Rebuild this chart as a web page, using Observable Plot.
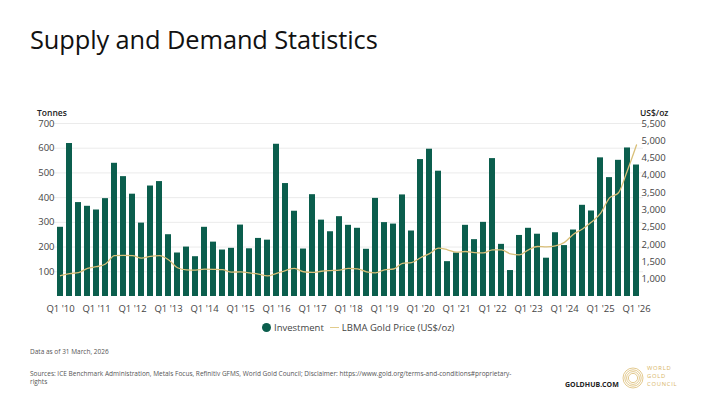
<!DOCTYPE html>
<html>
<head>
<meta charset="utf-8">
<script src="https://cdn.jsdelivr.net/npm/d3@7"></script>
<script src="https://cdn.jsdelivr.net/npm/@observablehq/plot@0.6"></script>
<style>
  html, body { margin: 0; padding: 0; background: #fff; }
  body { width: 710px; height: 400px; position: relative; overflow: hidden; font-family: "Open Sans", sans-serif; }
  .abs { position: absolute; white-space: nowrap; }
  #title { left: 30px; top: 22px; font-size: 25.4px; color: #111; font-weight: 400; letter-spacing: -0.1px; }
  #chart { position: absolute; left: 0; top: 95px; }
  .axt { font-size: 8.5px; font-weight: 600; color: #222; top: 107px; }
  #legend { top: 321px; left: 262px; font-size: 9.5px; color: #444; display: flex; align-items: center; }
  .dot { width: 9px; height: 9px; border-radius: 50%; background: #0b5e4d; display: inline-block; margin-right: 3px; }
  .ln { width: 9px; height: 1.6px; background: #e2cc8c; display: inline-block; margin: 0 3px 0 6px; }
  #asof { left: 30px; top: 347px; font-size: 6.5px; color: #555; }
  #src { left: 30px; top: 370px; font-size: 6.5px; color: #555; white-space: normal; width: 486px; line-height: 8px; }
  #gh { left: 565px; top: 380px; font-size: 7px; font-weight: 700; color: #222; }
  #logo { left: 622px; top: 367px; }
  .wgc { left: 647px; font-size: 5.8px; color: #d7b466; line-height: 7.9px; height: 7.9px; letter-spacing: 0.75px; }
</style>
</head>
<body>
<div id="title" class="abs">Supply and Demand Statistics</div>
<div class="abs axt" style="left:37px;">Tonnes</div>
<div class="abs axt" style="left:640px;">US$/oz</div>
<div id="chart"></div>
<div id="legend" class="abs"><span class="dot"></span>Investment<span class="ln"></span>LBMA Gold Price (US$/oz)</div>
<div id="asof" class="abs">Data as of 31 March, 2026</div>
<div id="src" class="abs">Sources: ICE Benchmark Administration, Metals Focus, Refinitiv GFMS, World Gold Council; Disclaimer: https://www.gold.org/terms-and-conditions#proprietary-rights</div>
<div id="gh" class="abs">GOLDHUB.COM</div>
<svg id="logo" class="abs" width="22" height="22" viewBox="0 0 22 22">
  <g fill="none" stroke="#dcbd73" stroke-width="0.8">
    <circle cx="11" cy="11" r="10"/>
    <circle cx="11" cy="11" r="8.2"/>
    <circle cx="11" cy="11" r="6.4"/>
    <circle cx="11" cy="11" r="4.6"/>
  </g>
</svg>
<div class="abs wgc" style="top:365px;">WORLD</div>
<div class="abs wgc" style="top:373px;">GOLD</div>
<div class="abs wgc" style="top:381px;">COUNCIL</div>
<script>
const years = ["10","11","12","13","14","15","16","17","18","19","20","21","22","23","24","25","26"];
const quarters = [];
years.forEach(y => { for (let q = 1; q <= 4; q++) quarters.push(`Q${q} '${y}`); });
quarters.length = 65; // Q1 '10 ... Q1 '26

const investment = [
  280, 619, 380, 365, 350, 396, 539, 485, 414, 297, 447, 465,
  250, 176, 200, 161, 280, 220, 188, 195, 289, 193, 235, 228,
  616, 457, 345, 192, 412, 309, 262, 323, 288, 276, 191, 397,
  299, 293, 411, 265, 554, 596, 507, 141, 176, 288, 230, 300,
  558, 211, 105, 247, 276, 252, 155, 258, 206, 269, 369, 346,
  561, 481, 551, 601, 532
];

const goldPrice = [
  1100, 1160, 1190, 1310, 1360, 1440, 1680, 1690, 1680, 1610, 1660, 1680,
  1560, 1330, 1270, 1265, 1290, 1285, 1275, 1205, 1210, 1185, 1145, 1095,
  1170, 1250, 1315, 1215, 1195, 1230, 1250, 1265, 1310, 1300, 1215, 1185,
  1270, 1295, 1460, 1480, 1620, 1740, 1900, 1850, 1780, 1800, 1770, 1760,
  1850, 1850, 1730, 1705, 1850, 1945, 1935, 1965, 2065, 2300, 2450, 2650,
  2900, 3350, 3500, 4150, 4880
];

const tonneTicks = [100, 200, 300, 400, 500, 600, 700];
const priceTicks = [1000, 1500, 2000, 2500, 3000, 3500, 4000, 4500, 5000, 5500];
const xTickLabels = quarters.filter((q, i) => i % 4 === 0);

// right axis: US$/oz 500..5500 maps onto 0..700 tonnes
const priceToT = p => (p - 500) * 700 / 5000;
const tToPrice = t => Math.round(t * 5000 / 700 + 500);

const data = quarters.map((q, i) => ({ q, inv: investment[i], price: goldPrice[i] }));

const chart = Plot.plot({
  width: 710,
  height: 230,
  marginLeft: 53,
  marginRight: 67,
  marginTop: 28,
  marginBottom: 29,
  style: { fontFamily: "Open Sans", fontSize: "9.5px", color: "#333", background: "transparent" },
  x: { type: "band", domain: quarters, padding: 0.33, label: null },
  y: { domain: [0, 700], label: null },
  marks: [
    Plot.gridY(tonneTicks, { stroke: "#ebebeb", strokeOpacity: 1 }),
    Plot.barY(data, { x: "q", y: "inv", fill: "#0b5e4d" }),
    Plot.line(data, { x: "q", y: d => priceToT(d.price), stroke: "#d9bf78", strokeWidth: 1.3, curve: "monotone-x" }),
    Plot.axisY(tonneTicks, { anchor: "left", tickSize: 0, tickPadding: 0, dx: 1, label: null, fill: "#444" }),
    Plot.axisY(priceTicks.map(priceToT), { anchor: "right", tickSize: 0, tickPadding: 0, dx: -2, label: null, fill: "#444",
      tickFormat: t => d3.format(",")(tToPrice(t)) }),
    Plot.axisX(xTickLabels, { tickSize: 0, tickPadding: 9, label: null, fill: "#444" })
  ]
});
document.getElementById("chart").appendChild(chart);
</script>
</body>
</html>
